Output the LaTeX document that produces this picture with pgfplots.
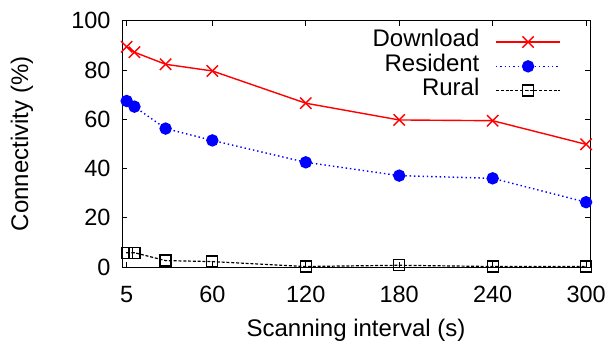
\documentclass[border=0pt]{standalone}
\usepackage{fontspec}
\setmainfont{Liberation Sans}
\usepackage{pgfplots}
\pgfplotsset{compat=1.18}
\pgfdeclareplotmark{sqdot}{%
  \pgfpathrectangle{\pgfpoint{-\pgfplotmarksize}{-\pgfplotmarksize}}{\pgfpoint{2\pgfplotmarksize}{2\pgfplotmarksize}}%
  \pgfusepathqstroke
  \pgfpathcircle{\pgfpointorigin}{0.7pt}%
  \pgfusepathqfill}
\begin{document}
\begin{tikzpicture}
\begin{axis}[
  scale only axis,
  width=468bp, height=246.3bp,
  xmin=2, xmax=302.5,
  ymin=0, ymax=100,
  xtick={5,60,120,180,240,300},
  ytick={0,20,40,60,80,100},
  tick align=inside,
  major tick length=5bp,
  axis line style={line width=0.9bp},
  tick style={line width=0.8bp, black},
  font=\fontsize{24bp}{28bp}\selectfont,
  ticklabel style={font=\fontsize{23.5bp}{28bp}\selectfont},
  /pgf/number format/assume math mode=true,
  xticklabel style={yshift=-16bp},
  yticklabel style={xshift=-8bp},
  xlabel={Scanning interval (s)},
  ylabel={Connectivity (\%)},
  every axis x label/.style={at={(axis description cs:0.5,-0.256)}, anchor=center},
  every axis y label/.style={at={(axis description cs:-0.2137,0.5)}, rotate=90, anchor=center},
  clip=false,
  legend plot pos=right,
  legend cell align=right,
  legend style={draw=none, fill=none, at={(0.938,0.9635)}, anchor=north east,
    inner sep=0pt, row sep=0pt, column sep=16bp,
    nodes={inner xsep=0pt, inner ysep=0pt, text height=17bp, text depth=7.3bp},
    font=\fontsize{24bp}{28bp}\selectfont},
  legend image code/.code={%
    \draw[mark repeat=2, mark phase=2, #1] plot coordinates {(0bp,0bp) (32bp,0bp) (64bp,0bp)};
  },
]
\addplot[red, line width=1.4bp, mark=x, mark size=8bp, mark options={solid, line width=1.4bp}]
  coordinates {(5,89.4) (10,87.2) (30,82.3) (60,79.6) (120,66.5) (180,59.7) (240,59.4) (300,49.8)};
\addlegendentry{Download}
\addplot[blue, line width=1.4bp, dash pattern=on 1.4bp off 2.9bp, mark=*, mark size=5.5bp, mark options={solid}]
  coordinates {(5,67.4) (10,65.1) (30,56.2) (60,51.4) (120,42.5) (180,37.1) (240,36.0) (300,26.3)};
\addlegendentry{Resident}
\addplot[black, line width=1.2bp, dash pattern=on 3bp off 1.8bp, mark=sqdot, mark size=5.5bp, mark options={solid, line width=1.3bp}]
  coordinates {(5,5.8) (10,5.8) (30,2.6) (60,2.2) (120,0.2) (180,0.7) (240,0.2) (300,0.2)};
\addlegendentry{Rural}
\end{axis}
\pgfresetboundingbox
\path[use as bounding box] (-122bp,-74bp) rectangle (486bp,267bp);
\end{tikzpicture}
\end{document}
